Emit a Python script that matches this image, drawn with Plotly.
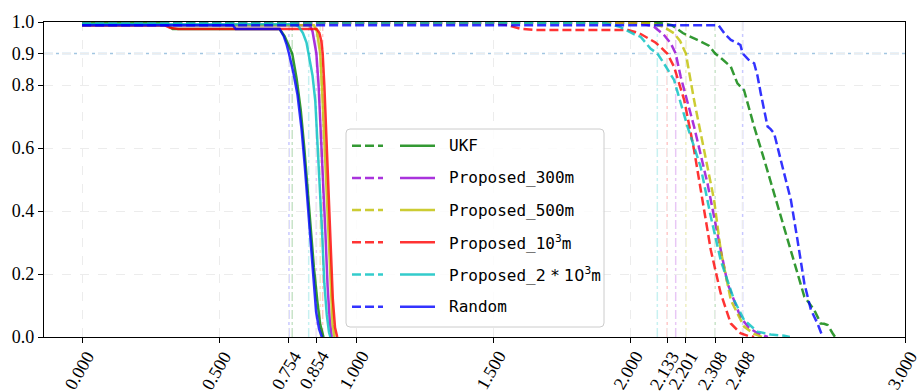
import plotly.graph_objects as go

# ---------------- data ----------------
series_names = ["UKF", "Proposed_300m", "Proposed_500m", "Proposed_10<sup>3</sup>m",
                "Proposed_<span style='font-family:DejaVu Sans'>2 * 10</span><sup>3</sup>m", "Random"]
series_colors = ["rgba(0,128,0,0.8)", "rgba(148,0,211,0.8)", "rgba(191,191,0,0.8)",
                 "rgba(255,0,0,0.8)", "rgba(0,191,191,0.8)", "rgba(0,0,255,0.8)"]
vline_colors = ["rgba(0,128,0,0.22)", "rgba(148,0,211,0.22)", "rgba(191,191,0,0.25)",
                "rgba(255,0,0,0.22)", "rgba(0,191,191,0.22)", "rgba(0,0,255,0.22)"]

# solid curves (left group)
ukf_solid_x = [0, 0.3, 0.33, 0.72, 0.738, 0.752, 0.766, 0.782, 0.797, 0.81, 0.822, 0.832, 0.845, 0.858, 0.868, 0.88]
ukf_solid_y = [0.998, 0.998, 0.978, 0.978, 0.955, 0.925, 0.9, 0.82, 0.72, 0.6, 0.47, 0.36, 0.22, 0.11, 0.04, 0]
p300_solid_x = [0, 0.83, 0.84, 0.848, 0.854, 0.862, 0.87, 0.878, 0.887, 0.895, 0.903, 0.91]
p300_solid_y = [0.99, 0.99, 0.97, 0.935, 0.9, 0.8, 0.66, 0.5, 0.33, 0.16, 0.05, 0]
p500_solid_x = [0, 0.845, 0.856, 0.863, 0.868, 0.874, 0.882, 0.89, 0.898, 0.906, 0.913, 0.92]
p500_solid_y = [0.99, 0.99, 0.97, 0.935, 0.9, 0.8, 0.64, 0.47, 0.3, 0.14, 0.04, 0]
p1k_solid_x = [0, 0.3, 0.32, 0.35, 0.855, 0.865, 0.872, 0.877, 0.883, 0.89, 0.898, 0.906, 0.914, 0.922, 0.93]
p1k_solid_y = [0.99, 0.99, 0.982, 0.978, 0.978, 0.965, 0.94, 0.9, 0.8, 0.64, 0.46, 0.28, 0.12, 0.03, 0]
p2k_solid_x = [0, 0.775, 0.79, 0.805, 0.818, 0.826, 0.84, 0.85, 0.863, 0.875, 0.883, 0.892, 0.9, 0.905]
p2k_solid_y = [0.993, 0.993, 0.985, 0.965, 0.935, 0.9, 0.83, 0.75, 0.54, 0.33, 0.17, 0.07, 0.015, 0]
rand_solid_x = [0, 0.55, 0.56, 0.72, 0.735, 0.745, 0.754, 0.77, 0.785, 0.80, 0.812, 0.822, 0.833, 0.843, 0.853, 0.864, 0.874]
rand_solid_y = [0.99, 0.99, 0.978, 0.978, 0.955, 0.93, 0.9, 0.84, 0.77, 0.66, 0.54, 0.42, 0.29, 0.17, 0.08, 0.025, 0]

# dashed curves (right group)
ukf_dash_x = [0, 2.1, 2.15, 2.19, 2.243, 2.285, 2.308, 2.33, 2.365, 2.389, 2.413, 2.45, 2.487, 2.523,
              2.56, 2.584, 2.608, 2.633, 2.669, 2.693, 2.705, 2.718, 2.736, 2.745]
ukf_dash_y = [0.998, 0.998, 0.99, 0.965, 0.943, 0.925, 0.9, 0.885, 0.858, 0.805, 0.784, 0.668, 0.562, 0.456,
              0.35, 0.276, 0.202, 0.128, 0.086, 0.043, 0.042, 0.038, 0.012, 0]
p300_dash_x = [0, 2.0, 2.05, 2.085, 2.12, 2.146, 2.164, 2.182, 2.231, 2.28, 2.316, 2.353, 2.40, 2.43, 2.462, 2.5]
p300_dash_y = [0.998, 0.998, 0.993, 0.985, 0.96, 0.932, 0.9, 0.827, 0.668, 0.487, 0.329, 0.17, 0.064, 0.03, 0.012, 0]
p500_dash_x = [0, 2.06, 2.12, 2.158, 2.18, 2.201, 2.231, 2.268, 2.304, 2.328, 2.365, 2.413, 2.45, 2.48]
p500_dash_y = [0.998, 0.998, 0.985, 0.964, 0.94, 0.9, 0.752, 0.594, 0.435, 0.276, 0.117, 0.033, 0.01, 0]
p1k_dash_x = [0, 1.5, 1.55, 1.6, 1.65, 1.99, 2.03, 2.06, 2.09, 2.11, 2.133, 2.158, 2.195, 2.231, 2.262,
              2.292, 2.328, 2.365, 2.40, 2.43, 2.45]
p1k_dash_y = [0.997, 0.997, 0.99, 0.978, 0.975, 0.975, 0.965, 0.95, 0.935, 0.92, 0.9, 0.858, 0.752, 0.594, 0.435,
              0.276, 0.139, 0.043, 0.012, 0.003, 0]
p2k_dash_x = [0, 1.9, 1.96, 2.01, 2.036, 2.073, 2.097, 2.12, 2.158, 2.207, 2.255, 2.292, 2.328, 2.377, 2.413,
              2.462, 2.51, 2.56, 2.58]
p2k_dash_y = [0.998, 0.998, 0.985, 0.962, 0.953, 0.915, 0.9, 0.87, 0.816, 0.668, 0.54, 0.382, 0.244, 0.117, 0.054,
              0.017, 0.008, 0.004, 0]
rand_dash_x = [0, 2.32, 2.345, 2.365, 2.39, 2.40, 2.408, 2.43, 2.45, 2.462, 2.474, 2.499, 2.51, 2.523, 2.547,
               2.584, 2.608, 2.633, 2.657, 2.681, 2.70]
rand_dash_y = [0.99, 0.99, 0.96, 0.943, 0.932, 0.927, 0.9, 0.88, 0.869, 0.83, 0.774, 0.668, 0.66, 0.646, 0.562,
               0.435, 0.308, 0.17, 0.086, 0.043, 0]

solid_x = [ukf_solid_x, p300_solid_x, p500_solid_x, p1k_solid_x, p2k_solid_x, rand_solid_x]
solid_y = [ukf_solid_y, p300_solid_y, p500_solid_y, p1k_solid_y, p2k_solid_y, rand_solid_y]
dash_x = [ukf_dash_x, p300_dash_x, p500_dash_x, p1k_dash_x, p2k_dash_x, rand_dash_x]
dash_y = [ukf_dash_y, p300_dash_y, p500_dash_y, p1k_dash_y, p2k_dash_y, rand_dash_y]

# x where each curve crosses the 0.9 threshold
cross_solid = [0.766, 0.854, 0.868, 0.877, 0.826, 0.754]
cross_dash = [2.308, 2.164, 2.201, 2.133, 2.097, 2.408]
threshold = 0.9

x_tickvals = [0.0, 0.5, 0.754, 0.854, 1.0, 1.5, 2.0, 2.133, 2.201, 2.308, 2.408, 3.0]
x_ticktext = ["0.000", "0.500", "0.754", "0.854", "1.000", "1.500", "2.000", "2.133", "2.201",
              "2.308", "2.408", "3.000"]
y_tickvals = [0.0, 0.2, 0.4, 0.6, 0.8, 0.9, 1.0]
y_ticktext = ["0.0", "0.2", "0.4", "0.6", "0.8", "0.9", "1.0"]

# ---------------- figure ----------------
W, H = 920, 392
ML, MR, MT, MB = 44, 15, 22, 55
PW, PH = W - ML - MR, H - MT - MB

fig = go.Figure()

for i in range(6):
    fig.add_vline(x=cross_solid[i], line=dict(color=vline_colors[i], width=1.5, dash="dashdot"), layer="below")
    fig.add_vline(x=cross_dash[i], line=dict(color=vline_colors[i], width=1.5, dash="dashdot"), layer="below")
fig.add_hline(y=threshold, line=dict(color="rgba(100,160,205,0.6)", width=1.5, dash="dashdot"), layer="below")

for i in range(6):
    fig.add_trace(go.Scatter(x=dash_x[i], y=dash_y[i], mode="lines", showlegend=False,
                             line=dict(color=series_colors[i], width=2.5, dash="9px,4px")))
    fig.add_trace(go.Scatter(x=solid_x[i], y=solid_y[i], mode="lines", showlegend=False,
                             line=dict(color=series_colors[i], width=2.5)))


def px2x(px):
    return (px - ML) / PW


def py2y(py):
    return (H - MB - py) / PH


# custom legend: box with rounded corners
bx0, bx1, by0, by1, r = 346, 604, 129, 327, 4
path = (f"M {px2x(bx0 + r)},{py2y(by0)} L {px2x(bx1 - r)},{py2y(by0)} "
        f"Q {px2x(bx1)},{py2y(by0)} {px2x(bx1)},{py2y(by0 + r)} "
        f"L {px2x(bx1)},{py2y(by1 - r)} Q {px2x(bx1)},{py2y(by1)} {px2x(bx1 - r)},{py2y(by1)} "
        f"L {px2x(bx0 + r)},{py2y(by1)} Q {px2x(bx0)},{py2y(by1)} {px2x(bx0)},{py2y(by1 - r)} "
        f"L {px2x(bx0)},{py2y(by0 + r)} Q {px2x(bx0)},{py2y(by0)} {px2x(bx0 + r)},{py2y(by0)} Z")
fig.add_shape(type="path", path=path, xref="paper", yref="paper",
              line=dict(color="#cccccc", width=1), fillcolor="rgba(255,255,255,0.85)", layer="above")

row0, row_step = 145.7, 32.2
for i in range(6):
    yc = row0 + i * row_step
    fig.add_shape(type="line", xref="paper", yref="paper", x0=px2x(352), x1=px2x(383),
                  y0=py2y(yc), y1=py2y(yc), line=dict(color=series_colors[i], width=2.5, dash="9px,4px"),
                  layer="above")
    fig.add_shape(type="line", xref="paper", yref="paper", x0=px2x(400), x1=px2x(435),
                  y0=py2y(yc), y1=py2y(yc), line=dict(color=series_colors[i], width=2.5),
                  layer="above")
    fig.add_annotation(x=px2x(447), y=py2y(yc), xref="paper", yref="paper", text=series_names[i],
                       showarrow=False, xanchor="left", yanchor="middle",
                       font=dict(family="DejaVu Sans Mono", size=16, color="black"))

serif = "Liberation Serif, Times New Roman, serif"

# x tick labels as rotated annotations (placed right under each tick)
for v, t in zip(x_tickvals, x_ticktext):
    fig.add_annotation(x=v, y=0, xref="x", yref="paper", text=t, textangle=-60, showarrow=False,
                       xanchor="right", yanchor="top", xshift=18, yshift=-9, borderpad=0,
                       font=dict(family=serif, size=18, color="black"))

fig.update_xaxes(range=[-0.139, 3.0], tickvals=x_tickvals, showticklabels=False,
                 ticks="outside", ticklen=5, tickcolor="black", showline=True, mirror=True,
                 linecolor="black", linewidth=1.3, showgrid=True, gridcolor="#ececec",
                 griddash="dash", gridwidth=1, zeroline=False)
fig.update_yaxes(range=[0, 1.0], tickvals=y_tickvals, ticktext=y_ticktext,
                 ticks="outside", ticklen=5, tickcolor="black", showline=True, mirror=True,
                 linecolor="black", linewidth=1.3, showgrid=True, gridcolor="#ececec",
                 griddash="dash", gridwidth=1, zeroline=False,
                 tickfont=dict(family=serif, size=18, color="black"))
fig.update_layout(width=W, height=H, margin=dict(l=ML, r=MR, t=MT, b=MB, autoexpand=False),
                  plot_bgcolor="white", paper_bgcolor="white", showlegend=False)

fig.write_html("out.html")
